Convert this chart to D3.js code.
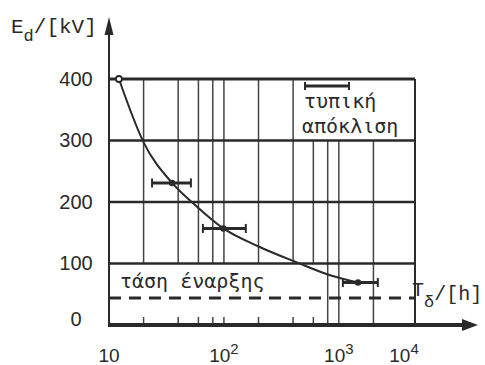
<!DOCTYPE html>
<html>
<head>
<meta charset="utf-8">
<script src="https://cdn.jsdelivr.net/npm/d3@7"></script>
<style>
body { margin: 0; background: #fff; }
</style>
</head>
<body>
<div id="chart"></div>
<script>
// curve through the breakdown times (T in h, E in kV)
var curveT = [12.2, 20, 35.4, 57, 99, 198, 441, 838, 1469];
var curveE = [400, 297, 231, 194, 157, 128, 101, 81, 69];

// error bars: centre time, low / high time, field
var barT = [35.4, 99, 1469];
var barLow = [23.7, 65.6, 1084];
var barHigh = [51.6, 155, 2183];
var barE = [231, 157, 69];

// onset voltage (dashed)
var onsetE = 44;

var yTicks = [0, 100, 200, 300, 400];
var xTickVals = [10, 100, 1000, 10000];
var xTickExp = ["", "2", "3", "4"];

// vertical grid lines and how far up/down each one runs (kV)
var gridT = [20, 40, 60, 80, 100, 200, 400, 600, 800, 1000, 2000];
var gridTop = [400, 400, 400, 400, 400, 400, 400, 300, 300, 300, 300];
var gridBottom = [100, 100, 100, 100, 100, 100, 100, 100, 0, 0, 0];

var tMax = 4600;

var width = 485, height = 365;
var ink = "#2a2a2a";

var svg = d3.select("#chart")
    .append("svg")
    .attr("width", width)
    .attr("height", height)
    .style("background", "#fff");

var x = d3.scaleLog().domain([10, tMax]).range([109, 415]);
var y = d3.scaleLinear().domain([0, 400]).range([325, 79]);

// vertical grid
gridT.forEach(function(t, i) {
    svg.append("line")
        .attr("x1", x(t)).attr("x2", x(t))
        .attr("y1", y(gridTop[i])).attr("y2", y(gridBottom[i]))
        .attr("stroke", "#444").attr("stroke-width", 1.5);
    if (gridBottom[i] > 0) {
        // short tick on the time axis
        svg.append("line")
            .attr("x1", x(t)).attr("x2", x(t))
            .attr("y1", y(0) - 8).attr("y2", y(0))
            .attr("stroke", "#444").attr("stroke-width", 1.5);
    }
});

// right border
svg.append("line")
    .attr("x1", x(tMax)).attr("x2", x(tMax))
    .attr("y1", y(400)).attr("y2", y(0))
    .attr("stroke", ink).attr("stroke-width", 2);

// horizontal grid
yTicks.filter(function(v) { return v > 0; }).forEach(function(v) {
    svg.append("line")
        .attr("x1", x(10)).attr("x2", x(tMax))
        .attr("y1", y(v)).attr("y2", y(v))
        .attr("stroke", ink).attr("stroke-width", v == 400 ? 3 : 2.5);
});

// onset voltage dashed line
svg.append("line")
    .attr("x1", x(10)).attr("x2", x(tMax))
    .attr("y1", y(onsetE)).attr("y2", y(onsetE))
    .attr("stroke", ink).attr("stroke-width", 3)
    .attr("stroke-dasharray", "12,8");

// y axis with arrow
svg.append("line")
    .attr("x1", x(10)).attr("x2", x(10))
    .attr("y1", y(0) + 2).attr("y2", 30)
    .attr("stroke", ink).attr("stroke-width", 2);
svg.append("path")
    .attr("d", `M${x(10)},17 L${x(10) - 4.5},35 L${x(10) + 4.5},35 Z`)
    .attr("fill", ink);

// x axis with arrow
svg.append("line")
    .attr("x1", x(10) - 1).attr("x2", 468)
    .attr("y1", y(0)).attr("y2", y(0))
    .attr("stroke", ink).attr("stroke-width", 4);
svg.append("path")
    .attr("d", `M478,${y(0)} L462,${y(0) - 6} L462,${y(0) + 6} Z`)
    .attr("fill", ink);

// y tick labels
var yAxis = d3.axisLeft(y).tickValues(yTicks).tickSize(0);
var gy = svg.append("g")
    .attr("transform", `translate(${x(10)},0)`)
    .call(yAxis);
gy.select(".domain").remove();
gy.selectAll("text")
    .attr("x", -33)
    .attr("y", function(d) { return d == 0 ? -6 : 0; })
    .attr("text-anchor", "middle")
    .attr("fill", ink)
    .style("font-family", "'Liberation Sans', Arial, sans-serif")
    .style("font-size", "20px");

// x tick labels (powers of ten)
var xl = svg.selectAll("text.xlab")
    .data(xTickVals)
    .enter()
    .append("text")
    .attr("class", "xlab")
    .attr("x", function(d) { return Math.min(x(d), x(tMax) - 11); })
    .attr("y", 362)
    .attr("text-anchor", "middle")
    .attr("fill", ink)
    .style("font-family", "'Liberation Sans', Arial, sans-serif")
    .style("font-size", "19px");
xl.append("tspan").text("10");
xl.append("tspan")
    .attr("dy", -8)
    .style("font-size", "15px")
    .text(function(d, i) { return xTickExp[i]; });

// curve
var pts = curveT.map(function(t, i) { return [t, curveE[i]]; });
var line = d3.line()
    .x(function(d) { return x(d[0]); })
    .y(function(d) { return y(d[1]); })
    .curve(d3.curveMonotoneX);
svg.append("path")
    .datum(pts)
    .attr("d", line)
    .attr("fill", "none")
    .attr("stroke", ink)
    .attr("stroke-width", 2);

// first measured point
svg.append("circle")
    .attr("cx", x(curveT[0])).attr("cy", y(curveE[0]))
    .attr("r", 3)
    .attr("fill", "#fff").attr("stroke", ink).attr("stroke-width", 1.8);

// error bars
barT.forEach(function(t, i) {
    var g = svg.append("g").attr("stroke", ink);
    g.append("line")
        .attr("x1", x(barLow[i])).attr("x2", x(barHigh[i]))
        .attr("y1", y(barE[i])).attr("y2", y(barE[i]))
        .attr("stroke-width", 3);
    [barLow[i], barHigh[i]].forEach(function(v) {
        g.append("line")
            .attr("x1", x(v)).attr("x2", x(v))
            .attr("y1", y(barE[i]) - 4.5).attr("y2", y(barE[i]) + 4.5)
            .attr("stroke-width", 2);
    });
    g.append("circle")
        .attr("cx", x(t)).attr("cy", y(barE[i]))
        .attr("r", 3.2).attr("fill", ink).attr("stroke", "none");
});

// legend: standard deviation
var lg = svg.append("g").attr("stroke", ink);
lg.append("line").attr("x1", 305).attr("x2", 349).attr("y1", 86).attr("y2", 86).attr("stroke-width", 3);
lg.append("line").attr("x1", 305).attr("x2", 305).attr("y1", 82).attr("y2", 90).attr("stroke-width", 2);
lg.append("line").attr("x1", 349).attr("x2", 349).attr("y1", 82).attr("y2", 90).attr("stroke-width", 2);

var greek = "'DejaVu Sans Mono', 'Liberation Mono', monospace";
svg.append("text")
    .attr("x", 304).attr("y", 108)
    .attr("fill", ink)
    .style("font-family", greek).style("font-size", "20px")
    .text("τυπική");
svg.append("text")
    .attr("x", 302).attr("y", 133)
    .attr("fill", ink)
    .style("font-family", greek).style("font-size", "20px")
    .text("απόκλιση");

// onset label
svg.append("text")
    .attr("x", 120).attr("y", y(onsetE) - 10)
    .attr("fill", ink)
    .style("font-family", greek).style("font-size", "20px")
    .text("τάση έναρξης");

// axis titles
var mono = "'Liberation Mono', 'DejaVu Sans Mono', monospace";
var yt = svg.append("text")
    .attr("x", 11).attr("y", 33)
    .attr("fill", ink)
    .style("font-family", mono).style("font-size", "21px");
yt.append("tspan").text("E");
yt.append("tspan").attr("dy", 8).style("font-size", "17px").text("d");
yt.append("tspan").attr("dy", -8).text("/[kV]");

var xt = svg.append("text")
    .attr("x", 412).attr("y", 296)
    .attr("fill", ink)
    .style("font-family", mono).style("font-size", "20px");
xt.append("tspan").text("T");
xt.append("tspan").attr("dy", 11).style("font-size", "17px").text("δ");
xt.append("tspan").attr("dy", -7).text("/[h]");
</script>
</body>
</html>
